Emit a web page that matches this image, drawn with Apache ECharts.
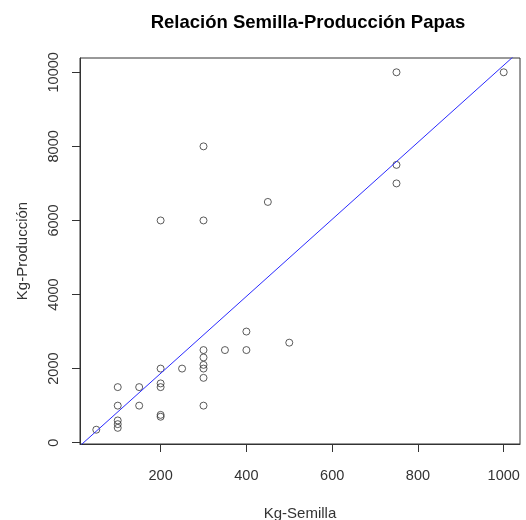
<!DOCTYPE html>
<html>
<head>
<meta charset="utf-8">
<script src="https://cdn.jsdelivr.net/npm/echarts@6/dist/echarts.min.js"></script>
<style>html,body{margin:0;padding:0;background:#fff;}#c{width:526px;height:520px;}</style>
</head>
<body>
<div id="c"></div>
<script>
const titleText = "Relación Semilla-Producción Papas";
const xName = "Kg-Semilla";
const yName = "Kg-Producción";
const semilla =    [50, 100, 100, 100, 100, 100, 150, 150, 200, 200, 200, 200, 200, 200, 250, 300, 300, 300, 300, 300, 300, 300, 300, 350, 400, 400, 450, 500, 750, 750, 750, 1000];
const produccion = [350, 1500, 1000, 600, 500, 400, 1500, 1000, 6000, 2000, 1600, 1500, 750, 700, 2000, 8000, 6000, 2500, 2300, 2100, 2000, 1750, 1000, 2500, 3000, 2500, 6500, 2700, 10000, 7500, 7000, 10000];
const xTicks = [200, 400, 600, 800, 1000];
const yTicks = [0, 2000, 4000, 6000, 8000, 10000];
const lineIntercept = -210;
const lineSlope = 10.4;

// R-style axis ranges: data range extended by 4% each side
function rRange(arr){const mn=Math.min(...arr),mx=Math.max(...arr),d=(mx-mn)*0.04;return [mn-d,mx+d];}
const xr = rRange(semilla), yr = rRange(produccion);
const pts = semilla.map((x,i)=>[x, produccion[i]]);
const lineData = [[xr[0], lineIntercept + lineSlope*xr[0]], [xr[1], lineIntercept + lineSlope*xr[1]]];

const FONT = "Liberation Sans, Arial, sans-serif";
const plain = v => String(Math.round(v));
const chart = echarts.init(document.getElementById('c'), null, {renderer:'canvas'});
chart.setOption({
  animation: false,
  backgroundColor: '#fff',
  title: {
    text: titleText, left: 303, top: 8, textAlign: 'center',
    textStyle: {fontFamily: FONT, fontWeight: 'bold', fontSize: 18.5, color: '#000'}
  },
  grid: {left: 80, right: 6, top: 58, bottom: 76, show: true, borderColor: '#333', borderWidth: 1,
         backgroundColor: 'transparent', containLabel: false, outerBoundsMode: 'none'},
  xAxis: {
    type: 'value', min: xr[0], max: xr[1],
    name: xName, nameLocation: 'middle', nameGap: 62,
    nameTextStyle: {fontFamily: FONT, fontSize: 15, color: '#333'},
    axisLine: {show: true, onZero: false, lineStyle: {color: '#333', width: 1}},
    axisTick: {show: true, length: 8, customValues: xTicks, lineStyle: {color: '#333'}},
    axisLabel: {customValues: xTicks, formatter: plain, margin: 24, fontFamily: FONT, fontSize: 14.5, color: '#333'},
    splitLine: {show: false}
  },
  yAxis: {
    type: 'value', min: yr[0], max: yr[1],
    name: yName, nameLocation: 'middle', nameGap: 50, nameRotate: 90,
    nameTextStyle: {fontFamily: FONT, fontSize: 15, color: '#333'},
    axisLine: {show: true, onZero: false, lineStyle: {color: '#333', width: 1}},
    axisTick: {show: true, length: 8, customValues: yTicks, lineStyle: {color: '#333'}},
    axisLabel: {customValues: yTicks, formatter: plain, rotate: 90, margin: 19, fontFamily: FONT, fontSize: 14.5, color: '#333'},
    splitLine: {show: false}
  },
  series: [
    {
      type: 'scatter', data: pts, symbol: 'circle', symbolSize: 7,
      itemStyle: {color: 'rgba(0,0,0,0)', borderColor: '#333', borderWidth: 1}
    },
    {
      type: 'line', data: lineData, showSymbol: false, symbol: 'none', clip: true,
      lineStyle: {color: '#2a2aff', width: 1}
    }
  ]
});
</script>
</body>
</html>
